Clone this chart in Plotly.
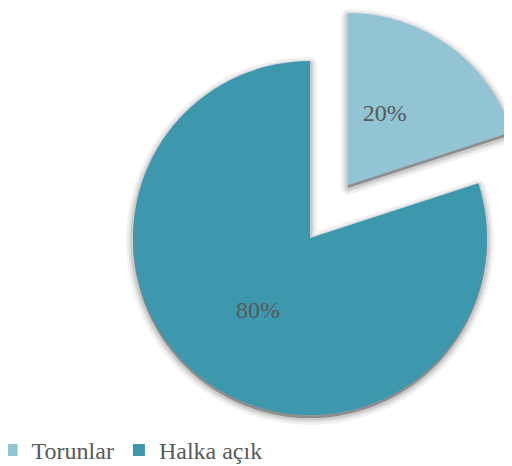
import plotly.graph_objects as go

# ---- data ----
labels = ["Torunlar", "Halka açık"]
values = [20, 80]
colors = ["#92C4D4", "#3D98AE"]

W, H = 512, 466
MB = 46                      # bottom margin reserved for the legend
PH = H - MB                  # plot-area height
FONT = "Liberation Serif, Times New Roman, serif"
TXT = "#595959"
CLEAR = "rgba(0,0,0,0)"
NB = "\u00a0"


def dom(cx, cy, r, dy=0):
    cy = cy + dy
    return dict(x=[(cx - r) / W, (cx + r) / W],
                y=[(PH - cy - r) / PH, (PH - cy + r) / PH])


# main pie (Halka açık visible) and pulled-out slice (Torunlar visible)
MAIN = (302, 230, 177)
PULL = (340, 177, 172)

common = dict(labels=labels, values=values, sort=False, direction="clockwise",
              rotation=0, showlegend=False, hoverinfo="skip")

fig = go.Figure()

# tiny pie used only to supply the legend entries (hidden under main pie)
fig.add_trace(go.Pie(**{**common, "showlegend": True},
                     marker=dict(colors=colors),
                     textinfo="none", domain=dom(290, 300, 0.4)))

# soft shadows
for (cx, cy, r), show in ((MAIN, [False, True]), (PULL, [True, False])):
    fill = ["rgba(0,0,0,0.30)" if s else CLEAR for s in show]
    fig.add_trace(go.Pie(**common, textinfo="none", domain=dom(cx, cy, r, dy=3),
                         marker=dict(colors=fill,
                                     line=dict(color=[CLEAR] * 2, width=0))))
    for w, a in ((14, 0.05), (9, 0.07), (5, 0.09)):
        lc = [f"rgba(0,0,0,{a})" if s else CLEAR for s in show]
        lw = [w if s else 0 for s in show]
        fig.add_trace(go.Pie(**common, textinfo="none", domain=dom(cx, cy, r, dy=3),
                             marker=dict(colors=[CLEAR] * 2,
                                         line=dict(color=lc, width=lw))))

# real slices
fig.add_trace(go.Pie(**common, domain=dom(*MAIN),
                     marker=dict(colors=[CLEAR, colors[1]], line=dict(width=0)),
                     texttemplate="%{percent:.0%}", textposition=["none", "inside"],
                     insidetextorientation="horizontal",
                     textfont=dict(family=FONT, size=24, color=TXT)))
fig.add_trace(go.Pie(**common, domain=dom(*PULL),
                     marker=dict(colors=[colors[0], CLEAR], line=dict(width=0)),
                     texttemplate=NB + "<br>%{percent:.0%}" + NB * 9,
                     textposition=["inside", "none"],
                     insidetextorientation="horizontal",
                     textfont=dict(family=FONT, size=24, color=TXT)))

fig.update_layout(
    width=W, height=H,
    margin=dict(l=0, r=0, t=0, b=MB, autoexpand=False),
    paper_bgcolor="white", plot_bgcolor="white",
    font=dict(family=FONT, color=TXT),
    legend=dict(orientation="h", x=-0.032, xanchor="left", y=0, yanchor="top",
                font=dict(family=FONT, size=24, color=TXT),
                bgcolor="rgba(0,0,0,0)"),
)

fig.write_html("out.html")
